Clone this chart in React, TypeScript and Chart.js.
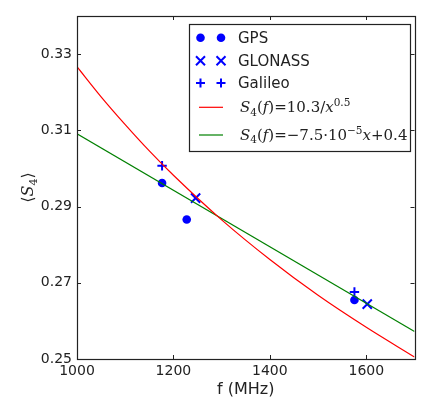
import React, { useEffect, useRef } from "react";
import { Chart, registerables } from "chart.js";

Chart.register(...registerables);

// ---- data ----
const xTicks = [1000, 1200, 1400, 1600];
const yTicks = [0.25, 0.27, 0.29, 0.31, 0.33];

const gpsFreq = [1176.45, 1227.6, 1575.42];
const gpsS4 = [0.2962, 0.2866, 0.2655];
const glonassFreq = [1246, 1602];
const glonassS4 = [0.2922, 0.2644];
const galileoFreq = [1176.45, 1575.42];
const galileoS4 = [0.3007, 0.2676];

const powerFitFreq = [1000, 1050, 1100, 1150, 1200, 1300, 1400, 1500, 1600, 1700];
const powerFitS4 = [0.3267, 0.3188, 0.3115, 0.3046, 0.2982, 0.2865, 0.2761, 0.2667, 0.2583, 0.2505];
const linearFitFreq = [1000, 1700];
const linearFitS4 = [0.3091, 0.2572];

const BLUE = "#0000ff";
const RED = "#ff0000";
const GREEN = "#008000";
const AXIS = "#222222";

type Seg = { t: string; it?: boolean; sub?: boolean; sup?: boolean; sans?: boolean };

function drawSegs(ctx: CanvasRenderingContext2D, segs: Seg[], x: number, y: number, base: number) {
  let cx = x;
  for (const s of segs) {
    const size = s.sub || s.sup ? base * 0.7 : base;
    const fam = s.sans ? "'DejaVu Sans'" : "'DejaVu Serif'";
    ctx.font = `${s.it ? "italic " : ""}${size}px ${fam}`;
    const dy = s.sub ? base * 0.22 : s.sup ? -base * 0.42 : 0;
    ctx.fillText(s.t, cx, y + dy);
    cx += ctx.measureText(s.t).width;
  }
  return cx - x;
}

function measureSegs(ctx: CanvasRenderingContext2D, segs: Seg[], base: number) {
  let w = 0;
  for (const s of segs) {
    const size = s.sub || s.sup ? base * 0.7 : base;
    const fam = s.sans ? "'DejaVu Sans'" : "'DejaVu Serif'";
    ctx.font = `${s.it ? "italic " : ""}${size}px ${fam}`;
    w += ctx.measureText(s.t).width;
  }
  return w;
}

const redLabel: Seg[] = [
  { t: "S", it: true }, { t: "4", sub: true }, { t: "(" }, { t: "f", it: true }, { t: ")" },
  { t: "=" }, { t: "10.3/" }, { t: "x", it: true }, { t: "0.5", sup: true },
];
const greenLabel: Seg[] = [
  { t: "S", it: true }, { t: "4", sub: true }, { t: "(" }, { t: "f", it: true }, { t: ")" },
  { t: "=\u2212" }, { t: "7.5\u00b710" }, { t: "\u22125", sup: true }, { t: "x", it: true }, { t: "+0.4" },
];

function drawMarker(ctx: CanvasRenderingContext2D, kind: string, x: number, y: number) {
  ctx.save();
  ctx.fillStyle = BLUE;
  ctx.strokeStyle = BLUE;
  ctx.lineWidth = 2;
  ctx.beginPath();
  if (kind === "circle") {
    ctx.arc(x, y, 4.3, 0, Math.PI * 2);
    ctx.fill();
  } else if (kind === "x") {
    const r = 4.5;
    ctx.moveTo(x - r, y - r); ctx.lineTo(x + r, y + r);
    ctx.moveTo(x - r, y + r); ctx.lineTo(x + r, y - r);
    ctx.stroke();
  } else {
    const r = 4.5;
    ctx.moveTo(x - r, y); ctx.lineTo(x + r, y);
    ctx.moveTo(x, y - r); ctx.lineTo(x, y + r);
    ctx.stroke();
  }
  ctx.restore();
}

const framePlugin = {
  id: "frame",
  afterDraw(chart: any) {
    const ctx: CanvasRenderingContext2D = chart.ctx;
    const a = chart.chartArea;
    const xs = chart.scales.x;
    const ys = chart.scales.y;
    ctx.save();
    // frame
    ctx.strokeStyle = AXIS;
    ctx.lineWidth = 1.2;
    ctx.strokeRect(Math.round(a.left) + 0.5, Math.round(a.top) + 0.5, Math.round(a.right - a.left), Math.round(a.bottom - a.top));
    // inner ticks
    ctx.lineWidth = 1;
    ctx.beginPath();
    const tl = 4;
    for (const v of xTicks) {
      const px = Math.round(xs.getPixelForValue(v)) + 0.5;
      ctx.moveTo(px, a.bottom); ctx.lineTo(px, a.bottom - tl);
      ctx.moveTo(px, a.top); ctx.lineTo(px, a.top + tl);
    }
    for (const v of yTicks) {
      const py = Math.round(ys.getPixelForValue(v)) + 0.5;
      ctx.moveTo(a.left, py); ctx.lineTo(a.left + tl, py);
      ctx.moveTo(a.right, py); ctx.lineTo(a.right - tl, py);
    }
    ctx.stroke();

    // axis titles
    ctx.fillStyle = AXIS;
    ctx.textAlign = "center";
    ctx.textBaseline = "middle";
    ctx.font = "16px 'DejaVu Sans'";
    ctx.fillText("f (MHz)", (a.left + a.right) / 2, 390);

    ctx.save();
    ctx.translate(27, (a.top + a.bottom) / 2);
    ctx.rotate(-Math.PI / 2);
    ctx.textAlign = "left";
    ctx.textBaseline = "alphabetic";
    const ylab: Seg[] = [{ t: "\u27e8", sans: true }, { t: "S", it: true }, { t: "4", sub: true }, { t: "\u27e9", sans: true }];
    const w = measureSegs(ctx, ylab, 16);
    drawSegs(ctx, ylab, -w / 2, 6, 16);
    ctx.restore();

    // legend
    const lx = 189.5, ly = 24.5, lw = 221, lh = 127;
    ctx.fillStyle = "#ffffff";
    ctx.fillRect(lx, ly, lw, lh);
    ctx.strokeStyle = AXIS;
    ctx.lineWidth = 1.2;
    ctx.strokeRect(lx, ly, lw, lh);

    const m1 = 200.5, m2 = 221, tx = 238;
    const rows = [37.7, 60.7, 83, 107.3, 135];
    const names = ["GPS", "GLONASS", "Galileo"];
    const kinds = ["circle", "x", "plus"];
    for (let i = 0; i < 3; i++) {
      drawMarker(ctx, kinds[i], m1, rows[i]);
      drawMarker(ctx, kinds[i], m2, rows[i]);
      ctx.fillStyle = AXIS;
      ctx.textAlign = "left";
      ctx.textBaseline = "middle";
      ctx.font = "15px 'DejaVu Sans'";
      ctx.fillText(names[i], tx, rows[i] + 1);
    }
    ctx.lineWidth = 1.2;
    ctx.strokeStyle = RED;
    ctx.beginPath(); ctx.moveTo(199, rows[3]); ctx.lineTo(223, rows[3]); ctx.stroke();
    ctx.strokeStyle = GREEN;
    ctx.beginPath(); ctx.moveTo(199, rows[4]); ctx.lineTo(223, rows[4]); ctx.stroke();
    ctx.fillStyle = AXIS;
    ctx.textBaseline = "alphabetic";
    drawSegs(ctx, redLabel, 240, rows[3] + 5, 15);
    drawSegs(ctx, greenLabel, 240, rows[4] + 5, 15);
    ctx.restore();
  },
};

const toXY = (xs: number[], ys: number[]) => xs.map((x, i) => ({ x, y: ys[i] }));

export default function App() {
  const ref = useRef<HTMLCanvasElement>(null);
  useEffect(() => {
    if (!ref.current) return;
    const chart = new Chart(ref.current, {
      type: "scatter",
      data: {
        datasets: [
          {
            label: "power fit",
            type: "line",
            data: toXY(powerFitFreq, powerFitS4),
            borderColor: RED,
            borderWidth: 1.2,
            pointRadius: 0,
            cubicInterpolationMode: "monotone",
            fill: false,
          } as any,
          {
            label: "linear fit",
            type: "line",
            data: toXY(linearFitFreq, linearFitS4),
            borderColor: GREEN,
            borderWidth: 1.2,
            pointRadius: 0,
            fill: false,
          } as any,
          {
            label: "GPS",
            data: toXY(gpsFreq, gpsS4),
            pointStyle: "circle",
            pointRadius: 4.3,
            backgroundColor: BLUE,
            borderColor: BLUE,
            borderWidth: 0,
          },
          {
            label: "GLONASS",
            data: toXY(glonassFreq, glonassS4),
            pointStyle: "crossRot",
            pointRadius: 6.5,
            backgroundColor: BLUE,
            borderColor: BLUE,
            borderWidth: 2,
          },
          {
            label: "Galileo",
            data: toXY(galileoFreq, galileoS4),
            pointStyle: "cross",
            pointRadius: 4.7,
            backgroundColor: BLUE,
            borderColor: BLUE,
            borderWidth: 2,
          },
        ],
      },
      options: {
        animation: false,
        responsive: true,
        maintainAspectRatio: false,
        layout: { padding: { left: 0, top: 16, right: 5, bottom: 0 } },
        plugins: { legend: { display: false }, tooltip: { enabled: false } },
        scales: {
          x: {
            type: "linear",
            min: 1000,
            max: 1700,
            grid: { display: false, drawTicks: false },
            border: { display: false },
            ticks: {
              font: { family: "'DejaVu Sans'", size: 14 },
              color: AXIS,
              padding: 4,
              maxRotation: 0,
              callback: (v: any) => String(Math.round(Number(v))),
            },
            afterBuildTicks: (s: any) => { s.ticks = xTicks.map((v) => ({ value: v })); },
            afterFit: (s: any) => { s.height = 38; },
          },
          y: {
            type: "linear",
            min: 0.25,
            max: 0.34,
            grid: { display: false, drawTicks: false },
            border: { display: false },
            ticks: {
              font: { family: "'DejaVu Sans'", size: 14 },
              color: AXIS,
              padding: 5,
              callback: (v: any) => Number(v).toFixed(2),
            },
            afterBuildTicks: (s: any) => { s.ticks = yTicks.map((v) => ({ value: v })); },
            afterFit: (s: any) => { s.width = 77; },
          },
        },
      },
      plugins: [framePlugin],
    });
    return () => chart.destroy();
  }, []);
  return (
    <div style={{ position: "absolute", left: 0, top: 0, width: 423, height: 397, background: "#fff" }}>
      <canvas ref={ref} />
    </div>
  );
}
